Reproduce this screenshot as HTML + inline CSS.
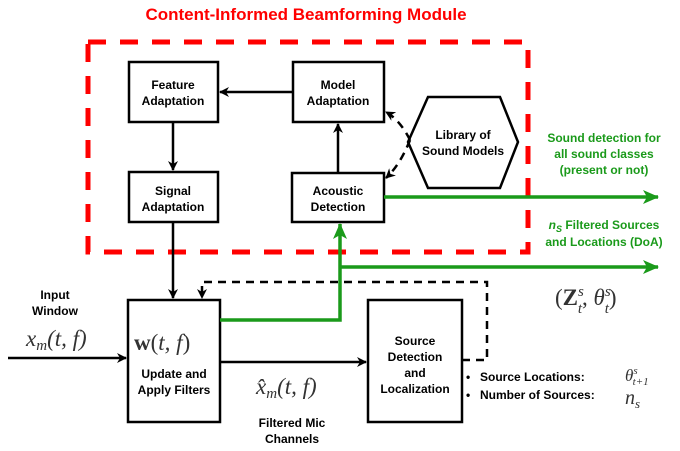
<!DOCTYPE html>
<html><head><style>body{margin:0;background:#fff}svg{display:block}text{font-family:"Liberation Sans",sans-serif}text.m{font-family:"Liberation Serif",serif}</style></head><body>
<svg width="680" height="451" viewBox="0 0 680 451" xmlns="http://www.w3.org/2000/svg">
<defs>
<marker id="ab" markerWidth="10" markerHeight="10" refX="9" refY="5" orient="auto" markerUnits="userSpaceOnUse"><path d="M0,0 L10,5 L0,10 L3,5 z" fill="#000"/></marker>
<marker id="ag" markerWidth="16" markerHeight="14" refX="15" refY="7" orient="auto" markerUnits="userSpaceOnUse"><path d="M0,0 L16,7 L0,14 L4,7 z" fill="#1a9a1a"/></marker>
</defs>
<text x="306" y="20" text-anchor="middle" font-size="17" font-weight="bold" fill="#f00">Content-Informed Beamforming Module</text>
<rect x="88" y="42" width="440" height="210" fill="none" stroke="#f00" stroke-width="5" stroke-dasharray="18,14"/>
<g fill="#fff" stroke="#000" stroke-width="2.5">
<rect x="129" y="62" width="89" height="60"/>
<rect x="293" y="62" width="91" height="60"/>
<rect x="129" y="172" width="89" height="50"/>
<rect x="292" y="173" width="92" height="49"/>
<polygon points="428,97 500,97 518,142 500,188 428,188 408,142"/>
<rect x="128" y="300" width="92" height="122"/>
<rect x="368" y="300" width="94" height="122"/>
</g>
<g font-size="12" font-weight="bold" text-anchor="middle" fill="#000">
<text x="173" y="89">Feature</text><text x="173" y="105">Adaptation</text>
<text x="338" y="89">Model</text><text x="338" y="105">Adaptation</text>
<text x="173" y="195">Signal</text><text x="173" y="211">Adaptation</text>
<text x="338" y="195">Acoustic</text><text x="338" y="211">Detection</text>
<text x="463" y="139">Library of</text><text x="463" y="155">Sound Models</text>
<text x="174" y="378">Update and</text><text x="174" y="394">Apply Filters</text>
<text x="415" y="345">Source</text><text x="415" y="361">Detection</text><text x="415" y="377">and</text><text x="415" y="393">Localization</text>
<text x="55" y="299">Input</text><text x="55" y="315">Window</text>
<text x="292" y="427">Filtered Mic</text><text x="292" y="443">Channels</text>
</g>
<g font-size="12" font-weight="bold" fill="#000">
<text x="466" y="381">•</text><text x="480" y="381">Source Locations:</text>
<text x="466" y="399">•</text><text x="480" y="399">Number of Sources:</text>
</g>
<g fill="#333">
<text class="m" x="26" y="346" font-size="23" font-style="italic">x<tspan font-size="15" dy="4">m</tspan><tspan dy="-4">(t, f)</tspan></text>
<text class="m" x="134" y="350" font-size="23"><tspan font-weight="bold">w</tspan>(<tspan font-style="italic">t, f</tspan>)</text>
<text class="m" x="256" y="394" font-size="23" font-style="italic">x̂<tspan font-size="15" dy="4">m</tspan><tspan dy="-4">(t, f)</tspan></text>
<text class="m" x="555" y="305" font-size="23">(<tspan font-weight="bold">Z</tspan><tspan font-size="15" dy="-9" font-style="italic">s</tspan><tspan font-size="15" dx="-6" dy="17" font-style="italic">t</tspan><tspan dy="-8">, </tspan><tspan font-style="italic">θ</tspan><tspan font-size="15" dy="-9" font-style="italic">s</tspan><tspan font-size="15" dx="-6" dy="17" font-style="italic">t</tspan><tspan dy="-8">)</tspan></text>
<text class="m" x="625" y="381" font-size="17" font-style="italic">θ<tspan font-size="11" dy="-7">s</tspan><tspan font-size="11" dx="-5" dy="11">t+1</tspan></text>
<text class="m" x="625" y="404" font-size="20" font-style="italic">n<tspan font-size="13" dy="4">s</tspan></text>
</g>
<g font-size="12" font-weight="bold" fill="#1a9a1a" text-anchor="middle">
<text x="604" y="142">Sound detection for</text><text x="604" y="158">all sound classes</text><text x="604" y="174">(present or not)</text>
<text x="604" y="229"><tspan font-style="italic">n<tspan font-size="9" dy="3">S</tspan></tspan><tspan dy="-3"> Filtered Sources</tspan></text><text x="604" y="246">and Locations (DoA)</text>
</g>
<g stroke="#000" stroke-width="2.5" fill="none">
<line x1="293" y1="92" x2="220" y2="92" marker-end="url(#ab)"/>
<line x1="173" y1="122" x2="173" y2="170" marker-end="url(#ab)"/>
<line x1="338" y1="173" x2="338" y2="124" marker-end="url(#ab)"/>
<line x1="173" y1="222" x2="173" y2="298" marker-end="url(#ab)"/>
<line x1="8" y1="358" x2="126" y2="358" marker-end="url(#ab)"/>
<line x1="220" y1="362" x2="366" y2="362" marker-end="url(#ab)"/>
</g>
<g stroke="#000" stroke-width="2.5" fill="none" stroke-dasharray="8,6">
<path d="M462,360 H487 V282 H202 V298" marker-end="url(#ab)"/>
<path d="M410,140 Q400,120 386,112" marker-end="url(#ab)"/>
<path d="M410,140 Q400,165 386,178" marker-end="url(#ab)"/>
</g>
<g stroke="#1a9a1a" stroke-width="3.5" fill="none">
<path d="M220,320 H340 V224" marker-end="url(#ag)"/>
<line x1="340" y1="267" x2="658" y2="267" marker-end="url(#ag)"/>
<line x1="384" y1="197" x2="658" y2="197" marker-end="url(#ag)"/>
</g>
</svg>
</body></html>
